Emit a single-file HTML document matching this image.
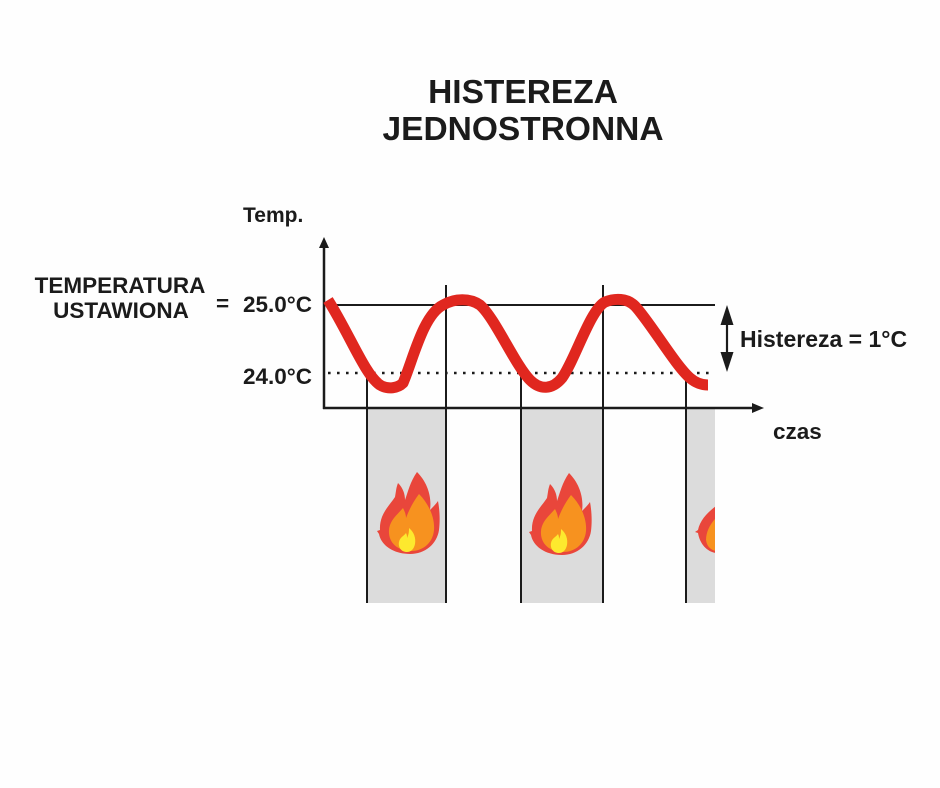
<!DOCTYPE html>
<html><head><meta charset="utf-8"><style>
html,body{margin:0;padding:0;background:#fff;}
svg{display:block;}
text{font-family:"Liberation Sans",Arial,sans-serif;font-weight:bold;fill:#1b1b1b;}
</style></head><body>
<svg width="940" height="788" viewBox="0 0 940 788" xmlns="http://www.w3.org/2000/svg">
<rect width="940" height="788" fill="#fefefe"/>
<!-- title -->
<text x="523" y="103" font-size="33.5" text-anchor="middle">HISTEREZA</text>
<text x="523" y="140" font-size="33.5" text-anchor="middle">JEDNOSTRONNA</text>
<!-- left labels -->
<text x="243" y="222" font-size="21">Temp.</text>
<text x="120" y="293" font-size="22.5" text-anchor="middle">TEMPERATURA</text>
<text x="121" y="318" font-size="22.5" text-anchor="middle">USTAWIONA</text>
<text x="216" y="311" font-size="22.5">=</text>
<text x="243" y="312" font-size="22.5">25.0°C</text>
<text x="243" y="384" font-size="22.5">24.0°C</text>
<text x="740" y="347" font-size="23">Histereza = 1°C</text>
<text x="773" y="439" font-size="22.5">czas</text>
<!-- gray boxes -->
<rect x="367" y="408" width="79" height="195" fill="#dcdcdc"/>
<rect x="521" y="408" width="82" height="195" fill="#dcdcdc"/>
<rect x="686" y="408" width="29" height="195" fill="#dcdcdc"/>
<!-- flames -->
<defs>
<g id="flame">
<path d="M33 84 C16 84 4 75 2 64 L0 61 L3 60 C2 44 13 35 18 27 C19 22 19 18 21 13 C26 18 28 24 28 30 C31 22 33 12 40 2 C50 12 55 26 53 40 C56 37 59 34 61 31 C63 42 63 52 62 60 C60 74 48 84 33 84 Z" fill="#e9463b"/>
<path d="M34 81 C20 81 11 72 12 60 C13 50 20 45 26 38 C28 42 29 45 29 48 C32 40 36 32 42 24 C52 34 58 48 57 60 C56 72 47 81 34 81 Z" fill="#f7921f"/>
<path d="M30 82 C24 82 21 77 22 72 C23 67 27 66 29 63 C30 65 30 66 30 68 C32 64 32 61 32 58 C37 62 39 68 38 74 C37 79 34 82 30 82 Z" fill="#fde92e"/>
</g>
<clipPath id="c3"><rect x="686" y="408" width="29" height="195"/></clipPath>
</defs>
<use href="#flame" transform="translate(377,470)"/>
<use href="#flame" transform="translate(529,471)"/>
<g clip-path="url(#c3)">
<path d="M716 506 C708 512 700 520 698 530 L695 532 L698 533 C700 545 708 552 716 553 Z" fill="#e9463b"/>
<path d="M716 518 C710 524 706 532 706 540 C707 547 711 550 716 551 Z" fill="#f7921f"/>
</g>
<!-- reference lines -->
<line x1="324" y1="305" x2="715" y2="305" stroke="#1b1b1b" stroke-width="2"/>
<line x1="328" y1="373" x2="715" y2="373" stroke="#1b1b1b" stroke-width="2.6" stroke-dasharray="2.6 6.4"/>
<!-- vertical lines -->
<g stroke="#1b1b1b" stroke-width="2">
<line x1="367" y1="373" x2="367" y2="603"/>
<line x1="446" y1="285" x2="446" y2="603"/>
<line x1="521" y1="373" x2="521" y2="603"/>
<line x1="603" y1="285" x2="603" y2="603"/>
<line x1="686" y1="373" x2="686" y2="603"/>
</g>
<!-- axes -->
<line x1="324" y1="246" x2="324" y2="409" stroke="#1b1b1b" stroke-width="2.5"/>
<polygon points="324,237 319,248 329,248" fill="#1b1b1b"/>
<line x1="323" y1="408" x2="754" y2="408" stroke="#1b1b1b" stroke-width="2.5"/>
<polygon points="764,408 752,403 752,413" fill="#1b1b1b"/>
<!-- hysteresis arrow -->
<line x1="727" y1="318" x2="727" y2="360" stroke="#1b1b1b" stroke-width="2.2"/>
<polygon points="727,305 720.5,325 733.5,325" fill="#1b1b1b"/>
<polygon points="727,372 720.5,352 733.5,352" fill="#1b1b1b"/>
<!-- curve -->
<path d="M328,300 C350,335 365,375 380,385 C388,390 398,388 403,383 C413,360 423,315 443,305 C455,298 470,298 480,305 C495,318 515,365 530,380 C540,390 552,390 562,378 C575,360 590,310 605,302 C615,298 627,298 635,306 C650,322 675,365 690,378 C697,384 703,385 708,385" fill="none" stroke="#e0271f" stroke-width="11" stroke-linejoin="round"/>
</svg>
</body></html>
